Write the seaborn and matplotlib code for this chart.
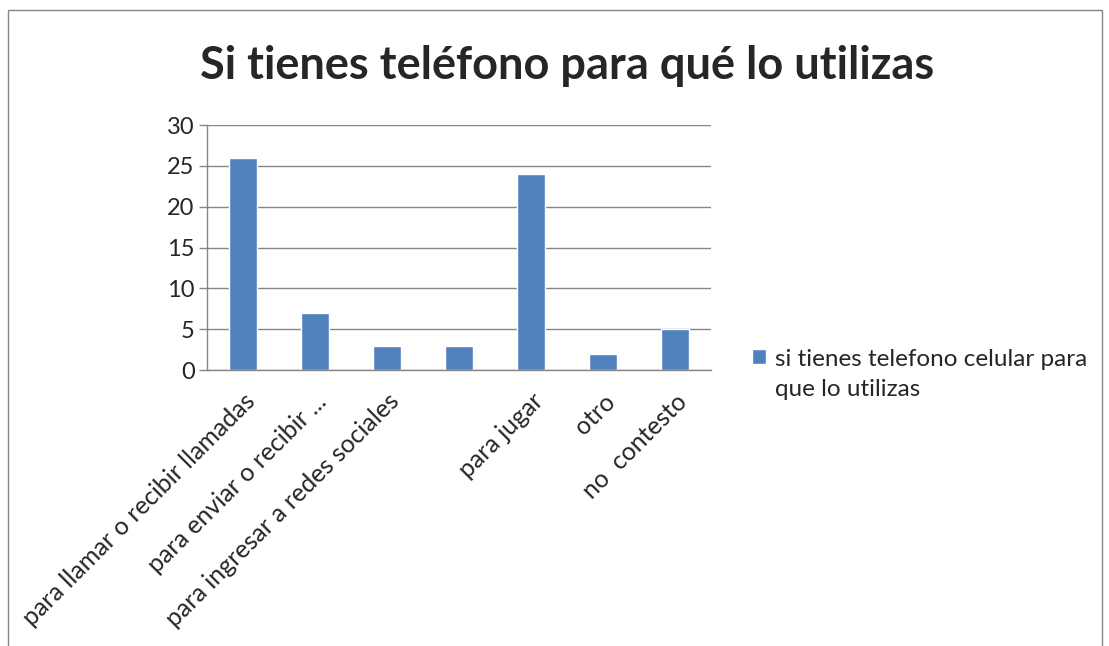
import numpy as np
import pandas as pd
import matplotlib.pyplot as plt
import seaborn as sns
from matplotlib.patches import Rectangle

# data
categories = ["llamadas", "mensajes", "redes", "sin_etiqueta", "jugar", "otro", "no_contesto"]
tick_labels = [
    "para llamar o recibir llamadas",
    "para enviar o recibir ...",
    "para ingresar a redes sociales",
    "",
    "para jugar",
    "otro",
    "no  contesto",
]
values = [26, 7, 3, 3, 24, 2, 5]
series_name = "si tienes telefono celular para\nque lo utilizas"
title = "Si tienes teléfono para qué lo utilizas"

bar_color = "#4F81BD"
grid_color = "#868686"

sns.set_theme(style="white")
plt.rcParams["font.family"] = ["Lato", "DejaVu Sans"]

df = pd.DataFrame({"categoria": categories, "valor": values})

fig = plt.figure(figsize=(11.09, 6.46), dpi=100)
ax = fig.add_axes([0.1867, 0.4272, 0.4545, 0.3793])

sns.barplot(data=df, x="categoria", y="valor", order=categories,
            color=bar_color, saturation=1, width=0.4, label=series_name, ax=ax)

ax.set_ylim(0, 30)
ax.set_xlim(-0.5, len(categories) - 0.5)
ax.set_yticks(np.arange(0, 31, 5))
ax.set_xlabel("")
ax.set_ylabel("")

# horizontal gridlines
ax.yaxis.grid(True, color=grid_color, linewidth=1)
ax.set_axisbelow(True)
for side in ["top", "right"]:
    ax.spines[side].set_visible(False)
for side in ["left", "bottom"]:
    ax.spines[side].set_color(grid_color)
    ax.spines[side].set_linewidth(1)

# tick marks between categories, labels centred on bars
ax.set_xticks(range(len(categories)))
ax.set_xticklabels(tick_labels, rotation=45, ha="right", rotation_mode="anchor", fontsize=18)
ax.set_xticks(np.arange(-0.5, len(categories), 1), minor=True)
ax.tick_params(axis="x", which="major", length=0, pad=14)
ax.tick_params(axis="x", which="minor", length=6, color=grid_color, width=1)
ax.tick_params(axis="y", length=6, color=grid_color, width=1, labelsize=17, pad=3)
ax.tick_params(axis="both", left=True, bottom=True)

leg = ax.legend(loc="upper left", bbox_to_anchor=(0.667, 0.478),
                bbox_transform=fig.transFigure, frameon=False, borderpad=0,
                fontsize=17.5, handlelength=0.6, handleheight=0.6, handletextpad=0.35)
leg.get_texts()[0].set_linespacing(1.5)
# put the square next to the first line of the label
sq = leg.legend_handles[0]
sq.set_y(sq.get_y() + 13)

fig.text(0.511, 0.898, title, ha="center", va="center", fontsize=32.5, fontweight="bold")

# chart area border
fig.add_artist(Rectangle((0.0075, -0.05), 0.986, 1.035, transform=fig.transFigure,
                         fill=False, edgecolor=grid_color, linewidth=1))

fig.savefig("out.png", dpi=100)
